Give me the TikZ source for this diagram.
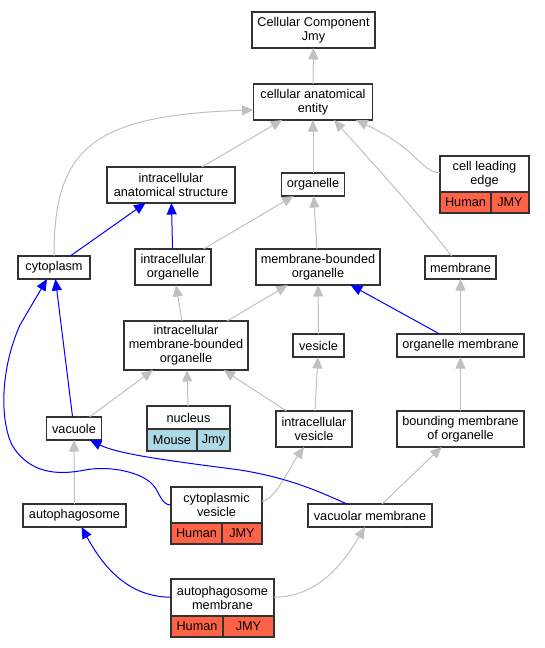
\documentclass[tikz,border=0pt]{standalone}
\usepackage{fontspec}
\setmainfont{Liberation Sans}
\usepackage{tikz}
\usetikzlibrary{arrows.meta, positioning}
\definecolor{tomatofill}{HTML}{FF6347}
\definecolor{lightbluefill}{HTML}{ADD8E6}
\definecolor{isagray}{HTML}{C0C0C0}

\begin{document}
\begin{tikzpicture}[
    x=1pt, y=-1pt,
    font=\fontsize{12.7}{14}\selectfont,
    term/.style={draw=black!80, line width=1.2pt, fill=white, align=center, inner sep=1pt, outer sep=0pt, minimum height=23},
    cell/.style={term, minimum height=21},
    human/.style={cell, fill=tomatofill},
    mouse/.style={cell, fill=lightbluefill},
    isa/.style={-{Triangle[length=11.5pt,width=10pt]}, isagray, line width=1pt},
    partof/.style={-{Triangle[length=11.5pt,width=10pt]}, blue, line width=1pt}
]
\useasboundingbox (0,0) rectangle (545,648);

\node[term, minimum width=123, minimum height=36] (ccj) at (313.5,30) {Cellular Component\\Jmy};
\node[term, minimum width=119, minimum height=36] (cae) at (313,102) {cellular anatomical\\entity};
\node[term, minimum width=128, minimum height=36] (ias) at (171,185) {intracellular\\anatomical structure};
\node[term, minimum width=63] (org) at (313,184.5) {organelle};
\node[term, minimum width=89, minimum height=36] (cle) at (484.5,174) {cell leading\\edge};
\node[human, minimum width=51, below right=0pt and 0pt of cle.south west] (cleh) {Human};
\node[human, minimum width=38, right=0pt of cleh] (clej) {JMY};
\node[term, minimum width=72] (cyto) at (54,267.5) {cytoplasm};
\node[term, minimum width=76, minimum height=36] (io) at (173,267) {intracellular\\organelle};
\node[term, minimum width=124, minimum height=36] (mbo) at (318,267) {membrane-bounded\\organelle};
\node[term, minimum width=71] (mem) at (460.5,267.5) {membrane};
\node[term, minimum width=124, minimum height=49] (imbo) at (186,345.5) {intracellular\\membrane-bounded\\organelle};
\node[term, minimum width=51] (ves) at (318.5,345.5) {vesicle};
\node[term, minimum width=127] (om) at (460.5,345.5) {organelle membrane};
\node[term, minimum width=55] (vac) at (74,428.5) {vacuole};
\node[term, minimum width=83] (nuc) at (188.5,417.5) {nucleus};
\node[mouse, minimum width=50, minimum height=22, below right=0pt and 0pt of nuc.south west] (nucm) {Mouse};
\node[mouse, minimum width=33, minimum height=22, right=0pt of nucm] (nucj) {Jmy};
\node[term, minimum width=76, minimum height=36] (iv) at (314,429) {intracellular\\vesicle};
\node[term, minimum width=127, minimum height=36] (bmo) at (460.5,429) {bounding membrane\\of organelle};
\node[term, minimum width=103] (auto) at (74.5,515.5) {autophagosome};
\node[term, minimum width=91, minimum height=36] (cv) at (216.5,505) {cytoplasmic\\vesicle};
\node[human, minimum width=51, below right=0pt and 0pt of cv.south west] (cvh) {Human};
\node[human, minimum width=40, right=0pt of cvh] (cvj) {JMY};
\node[term, minimum width=124] (vm) at (370,515.5) {vacuolar membrane};
\node[term, minimum width=103, minimum height=37] (am) at (222.5,597.5) {autophagosome\\membrane};
\node[human, minimum width=52, below right=0pt and 0pt of am.south west] (amh) {Human};
\node[human, minimum width=51, right=0pt of amh] (amj) {JMY};

\foreach \a/\b in {cae/ccj, ias/cae, org/cae, io/org, mbo/org, imbo/io, imbo/mbo, ves/mbo, om/mem,
    vac/imbo, nuc/imbo, iv/imbo, iv/ves, bmo/om, auto/vac, vm/bmo}
  \draw[isa] (\a) -- (\b);
\foreach \a/\b in {cyto/ias, io/ias, om/mbo, vac/cyto}
  \draw[partof] (\a) -- (\b);

\draw[isa] (cyto) .. controls (54,150) and (90,115) .. ([yshift=-8pt]cae.west);
\draw[isa] (mem) .. controls (420,215) and (370,160) .. ([xshift=21pt]cae.south);
\draw[isa] (cle) .. controls (420,172) and (420,150) .. ([xshift=43pt]cae.south);
\draw[isa] (cv) .. controls (275,500) and (288,470) .. ([xshift=-10pt]iv.south);
\draw[isa] (am) .. controls (320,597) and (345,560) .. ([xshift=-5pt]vm.south);
\draw[partof] (cv) .. controls (160,505) and (160,490) .. (150,482)
  .. controls (135,470) and (105,466) .. (85,470)
  .. controls (60,475) and (30,475) .. (12,445)
  .. controls (0,420) and (0,370) .. (20,325) -- ([xshift=-7pt]cyto.south);
\draw[partof] ([xshift=-23pt]vm.north) .. controls (320,492) and (290,478) .. (240,470)
  .. controls (180,462) and (120,455) .. ([xshift=16pt]vac.south);
\draw[partof] (am) .. controls (130,597) and (105,570) .. ([xshift=7pt]auto.south);

\end{tikzpicture}
\end{document}
